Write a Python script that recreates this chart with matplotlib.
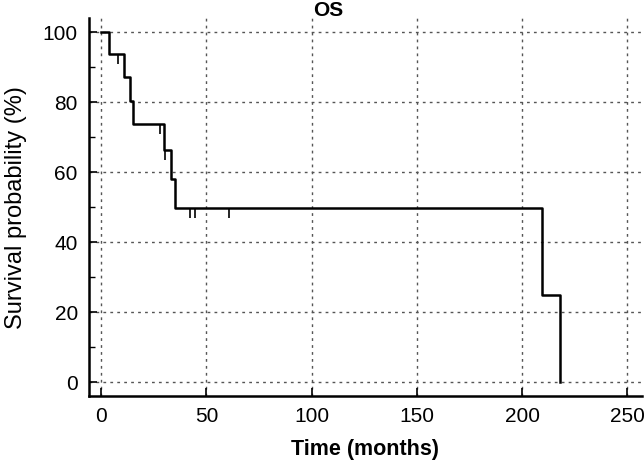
import numpy as np
from matplotlib import pyplot as plt

plt.rcParams['font.family'] = ['Liberation Sans', 'DejaVu Sans']

# step survival curve (months, %)
times = [0, 3.8, 10.6, 13.8, 15.0, 30.0, 33.3, 35.2, 209.5, 218.0]
surv = [100, 93.75, 87.05, 80.36, 73.66, 66.3, 58.0, 49.7, 24.85, 0]
censored = [8.0, 27.7, 30.5, 42.0, 44.3, 60.6]

fig = plt.figure(figsize=(6.44, 4.65), dpi=100)
ax = fig.add_axes([0.138, 0.148, 0.859, 0.813])

ax.step(times, surv, where='post', color='black', lw=1.8, zorder=3)

idx = np.searchsorted(times, censored, side='right') - 1
cs = np.array(surv)[idx]
ax.vlines(censored, cs - 2.8, cs, color='black', lw=1.2, zorder=3)

ax.set_xlim(-5.9, 257)
ax.set_ylim(-4, 104)
ax.set_xticks([0, 50, 100, 150, 200, 250])
ax.set_yticks([0, 20, 40, 60, 80, 100])
ax.set_yticks([10, 30, 50, 70, 90], minor=True)
ax.tick_params(direction='in', length=6, width=1.2, labelsize=15, pad=8)
ax.tick_params(which='minor', direction='in', length=4, width=1)
ax.grid(True, color='#555555', lw=1.0, linestyle=(0, (2, 3)))

for s in ['top', 'right']:
    ax.spines[s].set_visible(False)
ax.spines['left'].set_linewidth(1.8)
ax.spines['bottom'].set_linewidth(1.8)

ax.set_xlabel('Time (months)', fontsize=15.5, fontweight='bold', labelpad=9)
ax.set_ylabel('Survival probability (%)', fontsize=17, labelpad=11)
fig.text(328 / 644, 1 - 11 / 465, 'OS', fontsize=15, fontweight='bold', ha='center', va='center')

fig.savefig('out.png', dpi=100)
